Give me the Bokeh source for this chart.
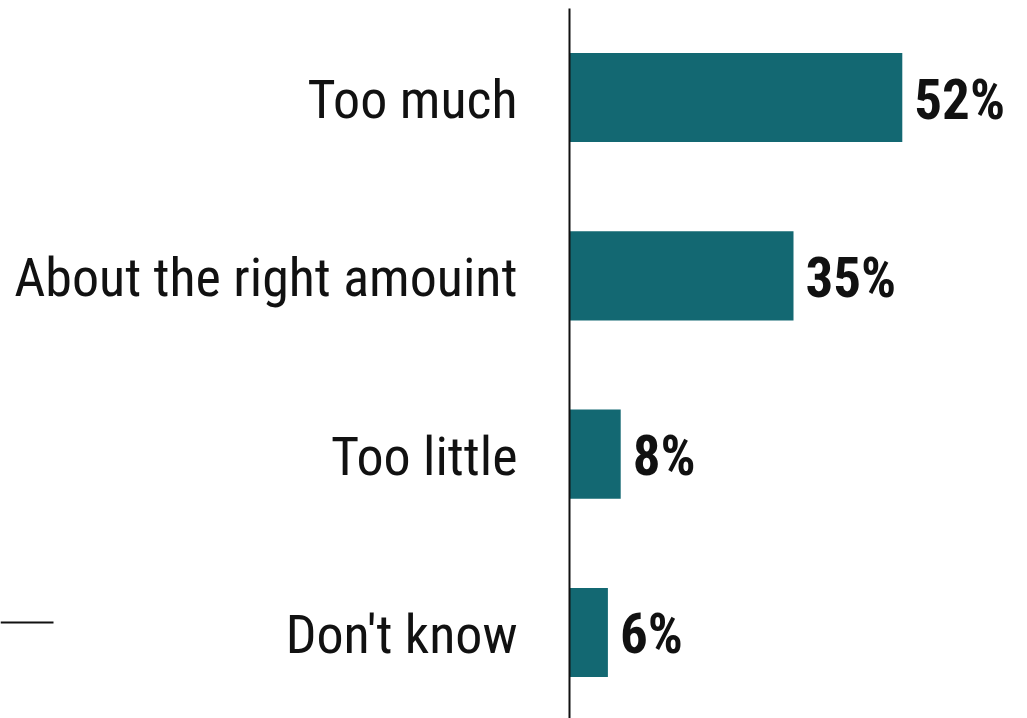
from bokeh.plotting import figure
from bokeh.models import ColumnDataSource, Range1d
from bokeh.core.properties import value
from bokeh.embed import file_html
from bokeh.resources import INLINE

categories = ["Too much", "About the right amouint", "Too little", "Don't know"]
values = [52, 35, 8, 6]
value_labels = ["52%", "35%", "8%", "6%"]

bar_color = "#136872"
FONT = "Roboto Condensed"
W, H = 1027, 718
px_per_unit_x = 6.4
x0_px = 569
px_per_unit_y = 178.33
top_center_px = 97

n = len(categories)
ypos = [n - 1 - i for i in range(n)]

x_start = -x0_px / px_per_unit_x
x_end = (W - x0_px) / px_per_unit_x
y_top = (n - 1) + top_center_px / px_per_unit_y
y_bottom = (n - 1) - (H - top_center_px) / px_per_unit_y

p = figure(width=W, height=H, output_backend="svg", toolbar_location=None,
           x_range=Range1d(x_start, x_end), y_range=Range1d(y_bottom, y_top),
           min_border=0, outline_line_color=None)
p.axis.visible = False
p.grid.visible = False
p.background_fill_color = "white"
p.border_fill_color = "white"

src = ColumnDataSource(dict(cat=categories, val=values, lab=value_labels, y=ypos))

p.hbar(y="y", right="val", left=0, height=0.5, source=src,
       fill_color=bar_color, line_color=None)

# vertical axis line
p.segment(x0=[0], y0=[y_bottom], x1=[0], y1=[(n - 1) + (top_center_px - 8) / px_per_unit_y],
          line_color="#111111", line_width=2)

# small stray rule at bottom left
rule_y = (n - 1) - (622 - top_center_px) / px_per_unit_y
p.segment(x0=[x_start], y0=[rule_y], x1=[x_start + 53 / px_per_unit_x], y1=[rule_y],
          line_color="#111111", line_width=2)

p.text(x=0, y="y", text="cat", source=src, x_offset=-52, y_offset=2,
       text_align="right", text_baseline="middle",
       text_font=value(FONT), text_font_size="54px",
       text_color="#111111")

p.text(x="val", y="y", text="lab", source=src, x_offset=12, y_offset=2,
       text_align="left", text_baseline="middle",
       text_font=value(FONT), text_font_size="55px",
       text_font_style="bold", text_color="#111111")

open("out.html", "w").write(file_html(p, INLINE))
